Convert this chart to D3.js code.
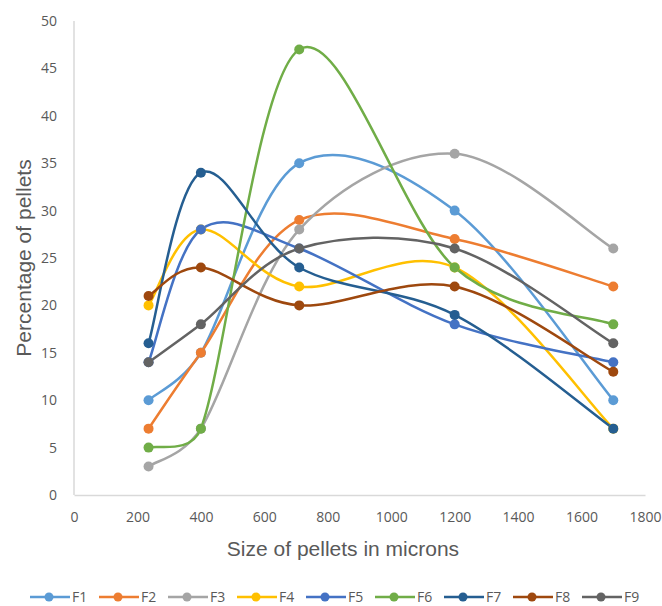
<!DOCTYPE html>
<html>
<head>
<meta charset="utf-8">
<script src="https://cdn.jsdelivr.net/npm/d3@7/dist/d3.min.js"></script>
<style>
  html, body { margin: 0; padding: 0; background: #fff; }
  svg { display: block; }
  text { font-family: "Liberation Sans", Arial, sans-serif; }
</style>
</head>
<body>
<svg id="chart" width="662" height="606"></svg>
<script>
// Pellet sizes (microns) at which each formulation was measured
const sizes = [235, 400, 710, 1200, 1700];

// Percentage of pellets retained per formulation
const seriesNames = ["F1", "F2", "F3", "F4", "F5", "F6", "F7", "F8", "F9"];
const F1 = [10, 15, 35, 30, 10];
const F2 = [7, 15, 29, 27, 22];
const F3 = [3, 7, 28, 36, 26];
const F4 = [20, 28, 22, 24, 7];
const F5 = [14, 28, 26, 18, 14];
const F6 = [5, 7, 47, 24, 18];
const F7 = [16, 34, 24, 19, 7];
const F8 = [21, 24, 20, 22, 13];
const F9 = [14, 18, 26, 26, 16];
const seriesValues = [F1, F2, F3, F4, F5, F6, F7, F8, F9];

const colors = ["#5B9BD5", "#ED7D31", "#A5A5A5", "#FFC000", "#4472C4",
                "#70AD47", "#255E91", "#9E480E", "#636363"];

const xTicks = [0, 200, 400, 600, 800, 1000, 1200, 1400, 1600, 1800];
const yTicks = [0, 5, 10, 15, 20, 25, 30, 35, 40, 45, 50];

// Spreadsheet-style smoothing: cubic Bezier segments whose control arms are
// 1/6 of the neighbour chord, capped at half of the segment length.
function SmoothCurve(context) { this._context = context; }
SmoothCurve.prototype = {
  areaStart() { this._line = 0; },
  areaEnd() { this._line = NaN; },
  lineStart() { this._pts = []; },
  point(px, py) { this._pts.push([+px, +py]); },
  lineEnd() {
    const p = this._pts, n = p.length, ctx = this._context;
    if (!n) return;
    ctx.moveTo(p[0][0], p[0][1]);
    const dist = (a, b) => Math.hypot(a[0] - b[0], a[1] - b[1]);
    for (let i = 0; i < n - 1; i++) {
      const p0 = p[Math.max(i - 1, 0)], p1 = p[i], p2 = p[i + 1], p3 = p[Math.min(i + 2, n - 1)];
      const d02 = dist(p0, p2), d12 = dist(p1, p2), d13 = dist(p1, p3);
      const f0 = d02 / 6 < d12 / 2 ? 1 / 6 : (d02 ? d12 / (2 * d02) : 0);
      const f3 = d13 / 6 < d12 / 2 ? 1 / 6 : (d13 ? d12 / (2 * d13) : 0);
      const b1 = [p1[0] + (p2[0] - p0[0]) * f0, p1[1] + (p2[1] - p0[1]) * f0];
      const b2 = [p2[0] - (p3[0] - p1[0]) * f3, p2[1] - (p3[1] - p1[1]) * f3];
      ctx.bezierCurveTo(b1[0], b1[1], b2[0], b2[1], p2[0], p2[1]);
    }
  }
};
const curveSmooth = context => new SmoothCurve(context);

const svg = d3.select("#chart");
const plotLeft = 74, plotRight = 645, plotTop = 21, plotBottom = 495;

const x = d3.scaleLinear().domain([0, 1800]).range([plotLeft, plotRight]);
const y = d3.scaleLinear().domain([0, 50]).range([plotBottom, plotTop]);

// Axes (no tick marks, light gray domain lines)
const xAxis = svg.append("g")
  .attr("transform", `translate(0,${plotBottom})`)
  .call(d3.axisBottom(x).tickValues(xTicks).tickFormat(d3.format("d")).tickSize(0).tickPadding(17));
const yAxis = svg.append("g")
  .attr("transform", `translate(${plotLeft},0)`)
  .call(d3.axisLeft(y).tickValues(yTicks).tickFormat(d3.format("d")).tickSize(0).tickPadding(17));

[xAxis, yAxis].forEach(g => {
  g.select(".domain").attr("stroke", "#D9D9D9").attr("stroke-width", 1.5);
  g.selectAll("text")
    .attr("fill", "#595959")
    .style("font-family", "'Open Sans', 'Liberation Sans', sans-serif")
    .style("font-size", "14px");
});
yAxis.select(".domain").attr("d", `M0,${plotBottom}V${plotTop}`);

// Axis titles
svg.append("text")
  .attr("x", 343)
  .attr("y", 556)
  .attr("text-anchor", "middle")
  .attr("fill", "#595959")
  .style("font-size", "21px")
  .text("Size of pellets in microns");

svg.append("text")
  .attr("transform", `translate(31,${(plotTop + plotBottom) / 2}) rotate(-90)`)
  .attr("text-anchor", "middle")
  .attr("fill", "#595959")
  .style("font-size", "21px")
  .text("Percentage of pellets");

// Smoothed lines with markers
const line = d3.line()
  .x((d, i) => x(sizes[i]))
  .y(d => y(d))
  .curve(curveSmooth);

const plot = svg.append("g");
seriesValues.forEach((vals, s) => {
  plot.append("path")
    .datum(vals)
    .attr("d", line)
    .attr("fill", "none")
    .attr("stroke", colors[s])
    .attr("stroke-width", 2.5);
});
seriesValues.forEach((vals, s) => {
  plot.selectAll(null)
    .data(vals)
    .join("circle")
    .attr("cx", (d, i) => x(sizes[i]))
    .attr("cy", d => y(d))
    .attr("r", 5)
    .attr("fill", colors[s]);
});

// Legend
const legend = svg.append("g").attr("transform", "translate(30,597)");
seriesNames.forEach((name, s) => {
  const g = legend.append("g").attr("transform", `translate(${s * 69},0)`);
  g.append("line").attr("x1", 0).attr("x2", 40).attr("y1", 0).attr("y2", 0)
    .attr("stroke", colors[s]).attr("stroke-width", 2.5);
  g.append("circle").attr("cx", 19).attr("cy", 0).attr("r", 4.5).attr("fill", colors[s]);
  g.append("text").attr("x", 42).attr("y", 5)
    .attr("fill", "#595959")
    .style("font-family", "'Open Sans', 'Liberation Sans', sans-serif")
    .style("font-size", "14px")
    .text(name);
});
</script>
</body>
</html>
